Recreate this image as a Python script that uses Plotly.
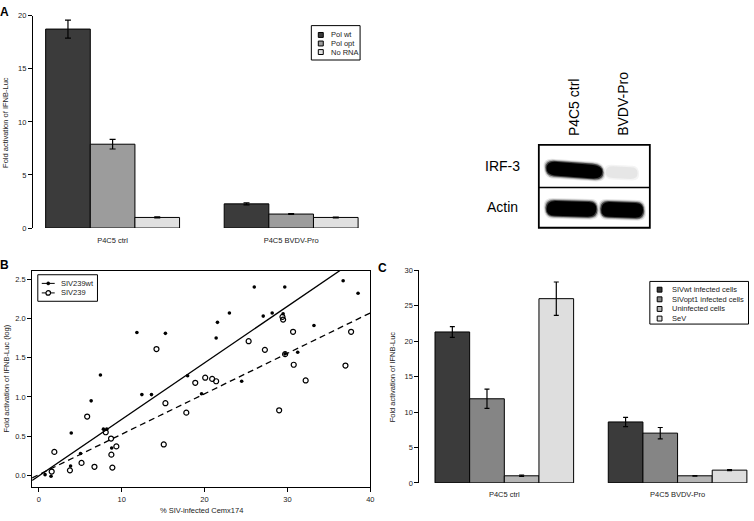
import plotly.graph_objects as go

W, H = 754, 521
FONT = "Liberation Sans, Arial, Helvetica, sans-serif"

# ---------------- Panel A data ----------------
a_categories = ["P4C5 ctrl", "P4C5 BVDV-Pro"]
a_series = ["Pol wt", "Pol opt", "No RNA"]
a_pol_wt = [18.75, 2.28]
a_pol_wt_err = [0.85, 0.10]
a_pol_opt = [7.9, 1.32]
a_pol_opt_err = [0.45, 0.04]
a_no_rna = [1.0, 1.0]
a_no_rna_err = [0.05, 0.04]
a_yticks = [0, 5, 10, 15, 20]
a_colors = ["#3b3b3b", "#9c9c9c", "#e0e0e0"]

# ---------------- Western blot labels ----------------
blot_lanes = ["P4C5 ctrl", "BVDV-Pro"]
blot_rows = ["IRF-3", "Actin"]

# ---------------- Panel B data ----------------
b_wt_x = [0.76, 1.48, 3.84, 3.92, 5.04, 6.32, 7.44, 7.8, 8.2, 8.8,
          11.84, 12.44, 13.6, 15.28, 17.96, 19.64, 21.4, 21.56, 23.0, 24.48,
          26.0, 27.08, 28.16, 29.48, 29.68, 29.72, 31.24, 33.2, 36.72, 38.52]
b_wt_y = [0.01, -0.01, 0.12, 0.54, 0.28, 0.95, 1.28, 0.59, 0.59, 0.35,
          1.82, 1.03, 1.03, 1.81, 1.27, 1.04, 1.75, 1.95, 2.07, 1.20,
          2.40, 2.03, 2.07, 2.06, 2.40, 1.55, 1.57, 1.91, 2.48, 2.32]
b_239_x = [1.56, 1.88, 3.76, 5.16, 5.84, 6.72, 8.08, 8.72, 8.76, 8.88,
           9.36, 14.2, 15.08, 15.28, 17.8, 18.88, 20.08, 20.92, 21.4, 25.32,
           27.28, 29.0, 29.4, 29.48, 29.72, 30.68, 30.76, 32.2, 37.0, 37.68]
b_239_y = [0.05, 0.30, 0.065, 0.16, 0.75, 0.11, 0.55, 0.47, 0.265, 0.10,
           0.37, 1.61, 0.395, 0.92, 0.80, 1.18, 1.245, 1.23, 1.20, 1.71,
           1.60, 0.83, 2.02, 1.985, 1.545, 1.83, 1.41, 1.21, 1.40, 1.83]
b_wt_slope, b_wt_intercept = 0.072, -0.006
b_239_slope, b_239_intercept = 0.0515, 0.01
b_xrange = [-0.8, 40.0]
b_yrange = [-0.141, 2.604]
b_xticks = [0, 10, 20, 30, 40]
b_yticks = [0.0, 0.5, 1.0, 1.5, 2.0, 2.5]
b_series = ["SIV239wt", "SIV239"]

# ---------------- Panel C data ----------------
c_categories = ["P4C5 ctrl", "P4C5 BVDV-Pro"]
c_series = ["SIVwt infected cells", "SIVopt1 infected cells", "Uninfected cells", "SeV"]
c_sivwt = [21.3, 8.6]
c_sivwt_err = [0.75, 0.65]
c_sivopt1 = [11.87, 7.02]
c_sivopt1_err = [1.35, 0.8]
c_uninf = [1.0, 1.0]
c_uninf_err = [0.1, 0.04]
c_sev = [26.0, 1.8]
c_sev_err = [2.35, 0.07]
c_yticks = [0, 5, 10, 15, 20, 25, 30]
c_colors = ["#3b3b3b", "#858585", "#b5b5b5", "#dedede"]


def fx(x):
    return x / W


def fy(y):
    return 1 - y / H


fig = go.Figure()

# ---- Panel A bars ----
a_vals = [a_pol_wt, a_pol_opt, a_no_rna]
a_errs = [a_pol_wt_err, a_pol_opt_err, a_no_rna_err]
for j, name in enumerate(a_series):
    fig.add_trace(go.Bar(
        x=a_categories, y=a_vals[j], name=name,
        width=0.25, offset=-0.375 + 0.25 * j,
        marker=dict(color=a_colors[j], line=dict(color="black", width=1)),
        error_y=dict(type="data", array=a_errs[j], color="black", thickness=1.2, width=3),
        xaxis="x", yaxis="y", showlegend=False))

# ---- Panel B scatter ----
fig.add_trace(go.Scatter(x=b_wt_x, y=b_wt_y, mode="markers", name=b_series[0],
                         marker=dict(symbol="circle", size=3.6, color="black"),
                         xaxis="x2", yaxis="y2", showlegend=False))
fig.add_trace(go.Scatter(x=b_239_x, y=b_239_y, mode="markers", name=b_series[1],
                         marker=dict(symbol="circle-open", size=5.0, color="black",
                                     line=dict(width=1.2, color="black")),
                         xaxis="x2", yaxis="y2", showlegend=False))
fig.add_trace(go.Scatter(x=b_xrange, y=[b_wt_intercept + b_wt_slope * v for v in b_xrange],
                         mode="lines", line=dict(color="black", width=1.3),
                         xaxis="x2", yaxis="y2", showlegend=False, hoverinfo="skip"))
fig.add_trace(go.Scatter(x=b_xrange, y=[b_239_intercept + b_239_slope * v for v in b_xrange],
                         mode="lines", line=dict(color="black", width=1.3, dash="6px,4px"),
                         xaxis="x2", yaxis="y2", showlegend=False, hoverinfo="skip"))

# ---- Panel C bars ----
c_vals = [c_sivwt, c_sivopt1, c_uninf, c_sev]
c_errs = [c_sivwt_err, c_sivopt1_err, c_uninf_err, c_sev_err]
for j, name in enumerate(c_series):
    fig.add_trace(go.Bar(
        x=c_categories, y=c_vals[j], name=name,
        width=0.2, offset=-0.4 + 0.2 * j,
        marker=dict(color=c_colors[j], line=dict(color="black", width=1)),
        error_y=dict(type="data", array=c_errs[j], color="black", thickness=1.2, width=2.5),
        xaxis="x3", yaxis="y3", showlegend=False))

tickfont = dict(family=FONT, size=7.5, color="#222")
common = dict(showgrid=False, zeroline=False, linecolor="black", linewidth=1,
              tickcolor="black", tickwidth=1, ticklen=4, tickfont=tickfont)
common_nolen = {k: v for k, v in common.items() if k != "ticklen"}

layout = dict(
    width=W, height=H, margin=dict(l=0, r=0, t=0, b=0),
    paper_bgcolor="white", plot_bgcolor="rgba(0,0,0,0)",
    font=dict(family=FONT, color="black"),
    barmode="overlay",
    xaxis=dict(domain=[fx(33), fx(370)], anchor="y", type="category",
               range=[-0.4468, 1.4306], showline=False, ticks="",
               ticklabelstandoff=6, **common_nolen),
    yaxis=dict(domain=[fy(228), fy(12)], anchor="x", range=[0, 20], showline=True,
               ticks="outside", tickvals=a_yticks, **common),
    xaxis2=dict(domain=[fx(32.3), fx(372.3)], anchor="y2", range=b_xrange, showline=True,
                mirror=True, ticks="outside", tickvals=b_xticks, ticklabelstandoff=1, **common),
    yaxis2=dict(domain=[fy(491), fy(271.7)], anchor="x2", range=b_yrange, showline=True,
                mirror=True, ticks="outside", tickvals=b_yticks, tickformat=".1f", **common),
    xaxis3=dict(domain=[fx(421.7), fx(754)], anchor="y3", type="category",
                range=[-0.4897, 1.418], showline=False, ticks="",
                ticklabelstandoff=6, **common_nolen),
    yaxis3=dict(domain=[fy(487.3), fy(271)], anchor="x3", range=[0, 30], showline=True,
                ticks="outside", tickvals=c_yticks, **common),
)
fig.update_layout(**layout)

shapes = []
annotations = []


def rect(x0, y0, x1, y1, fill="rgba(0,0,0,0)", lw=1, lc="black"):
    shapes.append(dict(type="rect", xref="paper", yref="paper",
                       x0=fx(x0), x1=fx(x1), y0=fy(y1), y1=fy(y0),
                       fillcolor=fill, line=dict(color=lc, width=lw), layer="above"))


def seg(x0, y0, x1, y1, lw=1, dash="solid"):
    shapes.append(dict(type="line", xref="paper", yref="paper",
                       x0=fx(x0), x1=fx(x1), y0=fy(y0), y1=fy(y1),
                       line=dict(color="black", width=lw, dash=dash), layer="above"))


def circ(cx, cy, r, fill, lw=1.2):
    shapes.append(dict(type="circle", xref="paper", yref="paper",
                       x0=fx(cx - r), x1=fx(cx + r), y0=fy(cy + r), y1=fy(cy - r),
                       fillcolor=fill, line=dict(color="black", width=lw), layer="above"))


def text(x, y, s, size=7.5, xanchor="left", yanchor="middle", angle=0, bold=False, color="#222"):
    if bold:
        s = "<b>" + s + "</b>"
    annotations.append(dict(x=fx(x), y=fy(y), xref="paper", yref="paper", text=s,
                            showarrow=False, xanchor=xanchor, yanchor=yanchor,
                            textangle=angle, borderpad=0,
                            font=dict(family=FONT, size=size, color=color)))


def blob(pts, fill, opacity, grow=0.0):
    cx = sum(p[-2] for p in pts) / len(pts)
    cy = sum(p[-1] for p in pts) / len(pts)
    out = []
    for p in pts:
        cmd = p[0]
        coords = p[1:]
        conv = []
        for i in range(0, len(coords), 2):
            x, y = coords[i], coords[i + 1]
            x = x + (grow if x > cx else -grow)
            y = y + (grow if y > cy else -grow)
            conv.append("%.5f,%.5f" % (fx(x), fy(y)))
        out.append(cmd + " " + " ".join(conv))
    path = " ".join(out) + " Z"
    shapes.append(dict(type="path", xref="paper", yref="paper", path=path,
                       fillcolor=fill, opacity=opacity, line=dict(width=0), layer="above"))


# ---- Panel A legend ----
rect(313, 22, 362, 57)
for j, name in enumerate(a_series):
    yy = 31.5 + 8.7 * j
    rect(320, yy - 2.5, 325, yy + 2.5, fill=a_colors[j])
    text(331.5, yy, name, size=7.5)

# ---- Panel B legend ----
rect(38, 275.5, 98, 302.5)
seg(42, 284.3, 55, 284.3, lw=1)
circ(48.5, 284.3, 1.6, "black", lw=0.5)
seg(42, 294, 55, 294, lw=1)
circ(48.5, 294, 2.3, "white", lw=1.2)
text(60, 284.3, b_series[0], size=7.5)
text(60, 294, b_series[1], size=7.5)

# ---- Panel C legend ----
rect(653.3, 282.3, 752.5, 325.7)
for j, name in enumerate(c_series):
    yy = 290.7 + 9.8 * j
    rect(660.7, yy - 2.5, 665.5, yy + 2.5, fill=c_colors[j])
    text(675, yy, name, size=7.5)

# ---- Axis titles ----
text(6, 120, "Fold activation of IFNB-Luc", size=7.5, xanchor="center", angle=-90)
text(6, 381, "Fold activation of IFNB-Luc (log)", size=7.5, xanchor="center", angle=-90)
text(203, 520.5, "% SIV-infected Cemx174", size=7.5, xanchor="center", yanchor="bottom")
text(395, 379, "Fold activation of IFNB-Luc", size=7.5, xanchor="center", angle=-90)

# ---- Panel letters ----
text(5, 8, "A", size=12, xanchor="center", bold=True, color="black")
text(5, 265.5, "B", size=12, xanchor="center", bold=True, color="black")
text(385, 269, "C", size=12, xanchor="center", bold=True, color="black")

# ---- Western blot ----
irf_lane1 = [("M", 549, 167), ("Q", 549, 160, 557, 160), ("L", 595, 163),
             ("Q", 606, 164, 606, 171), ("Q", 606, 178, 597, 178), ("L", 557, 175),
             ("Q", 549, 174, 549, 167)]
irf_lane2 = [("M", 609, 171), ("Q", 609, 165, 616, 165), ("L", 634, 166),
             ("Q", 641, 166, 641, 172), ("Q", 641, 178, 634, 178), ("L", 616, 177),
             ("Q", 609, 177, 609, 171)]
actin_lane1 = [("M", 549, 208), ("Q", 549, 200, 558, 200), ("L", 592, 201),
               ("Q", 600, 201, 600, 209), ("Q", 600, 217, 591, 217), ("L", 558, 216),
               ("Q", 549, 216, 549, 208)]
actin_lane2 = [("M", 604, 209), ("Q", 604, 201, 612, 201), ("L", 639, 202),
               ("Q", 647, 202, 647, 210), ("Q", 647, 218, 639, 218), ("L", 612, 217),
               ("Q", 604, 217, 604, 209)]
for band in (irf_lane1, actin_lane1, actin_lane2):
    blob(band, "black", 0.10, grow=2.5)
    blob(band, "black", 0.25, grow=1.5)
    blob(band, "black", 0.6, grow=0.6)
    blob(band, "black", 1.0, grow=-0.5)
blob(irf_lane2, "#c8c8c8", 0.2, grow=1.5)
blob(irf_lane2, "#c8c8c8", 0.3, grow=0.0)
rect(541.7, 143.3, 653.3, 227.7, lw=1.8)
seg(541.7, 186.7, 653.3, 186.7, lw=1.6)
text(505, 165, blot_rows[0], size=14, xanchor="center", color="black")
text(505, 207, blot_rows[1], size=14, xanchor="center", color="black")
text(576.5, 135, blot_lanes[0], size=14, xanchor="center", yanchor="bottom", angle=-90, color="black")
text(625.5, 135, blot_lanes[1], size=14, xanchor="center", yanchor="bottom", angle=-90, color="black")

fig.update_layout(shapes=shapes, annotations=annotations)
fig.write_html("out.html", config={"displayModeBar": False},
               post_script="document.body.style.margin='0';document.body.style.overflow='hidden';")
